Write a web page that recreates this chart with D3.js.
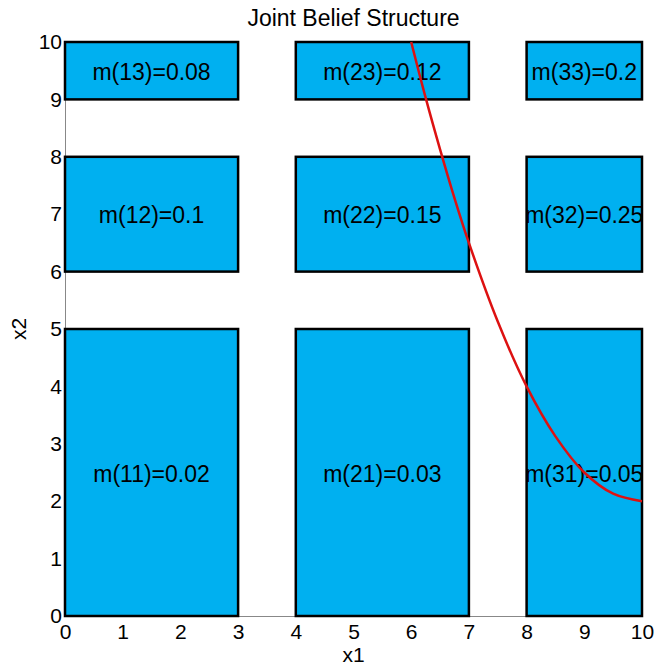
<!DOCTYPE html>
<html lang="en">
<head>
    <meta charset="UTF-8">
    <title>Joint Belief Structure</title>
    <script src="https://cdnjs.cloudflare.com/ajax/libs/d3/7.9.0/d3.min.js"></script>
    <style>
        body { margin: 0; background: #fff; font-family: Arial, "Liberation Sans", sans-serif; }
        .cell { fill: #00b0f0; stroke: #000; stroke-width: 2.5; }
        .cell-label { font-size: 23px; fill: #000; text-anchor: middle; }
        .axis path { stroke: #888; stroke-width: 1; }
        .axis text { font-size: 21px; fill: #000; font-family: Arial, "Liberation Sans", sans-serif; }
        .title { font-size: 23px; fill: #000; text-anchor: middle; }
        .axis-label { font-size: 21px; fill: #000; text-anchor: middle; }
    </style>
</head>
<body>
<div id="chart"></div>
<script>
    // focal intervals on each axis
    const x1Bands = [[0, 3], [4, 7], [8, 10]];
    const x2Bands = [[0, 5], [6, 8], [9, 10]];
    // mass[i][j] -> m(i+1, j+1)
    const masses = [
        [0.02, 0.1, 0.08],
        [0.03, 0.15, 0.12],
        [0.05, 0.25, 0.2]
    ];
    const ticks = [0, 1, 2, 3, 4, 5, 6, 7, 8, 9, 10];
    // red boundary curve
    const curveX = [6, 6.25, 6.5, 6.75, 7, 7.5, 8, 8.5, 9, 9.5, 10];
    const curveY = [10, 9.03, 8.13, 7.28, 6.5, 5.13, 4, 3.13, 2.5, 2.13, 2];

    const width = 654, height = 667;
    const margin = { top: 42, right: 12, bottom: 51, left: 65 };

    const svg = d3.select("#chart").append("svg")
        .attr("width", width)
        .attr("height", height);

    const x = d3.scaleLinear().domain([0, 10]).range([margin.left, width - margin.right]);
    const y = d3.scaleLinear().domain([0, 10]).range([height - margin.bottom, margin.top]);

    // axes (no visible ticks)
    svg.append("g")
        .attr("class", "axis")
        .attr("transform", `translate(0,${y(0)})`)
        .call(d3.axisBottom(x).tickValues(ticks).tickFormat(d3.format("d")).tickSize(0).tickPadding(8));

    svg.append("g")
        .attr("class", "axis")
        .attr("transform", `translate(${x(0)},0)`)
        .call(d3.axisLeft(y).tickValues(ticks).tickFormat(d3.format("d")).tickSize(0).tickPadding(3));

    // cells
    const cells = [];
    x1Bands.forEach((bx, i) => {
        x2Bands.forEach((by, j) => {
            cells.push({ bx, by, label: `m(${i + 1}${j + 1})=${masses[i][j]}` });
        });
    });

    svg.selectAll(".cell")
        .data(cells)
        .enter()
        .append("rect")
        .attr("class", "cell")
        .attr("x", d => x(d.bx[0]))
        .attr("y", d => y(d.by[1]))
        .attr("width", d => x(d.bx[1]) - x(d.bx[0]))
        .attr("height", d => y(d.by[0]) - y(d.by[1]));

    svg.selectAll(".cell-label")
        .data(cells)
        .enter()
        .append("text")
        .attr("class", "cell-label")
        .attr("x", d => x((d.bx[0] + d.bx[1]) / 2))
        .attr("y", d => y((d.by[0] + d.by[1]) / 2))
        .attr("dy", "0.4em")
        .text(d => d.label);

    // red curve
    const line = d3.line()
        .x(d => x(d[0]))
        .y(d => y(d[1]))
        .curve(d3.curveCatmullRom);

    svg.append("path")
        .datum(d3.zip(curveX, curveY))
        .attr("d", line)
        .attr("fill", "none")
        .attr("stroke", "#dd1111")
        .attr("stroke-width", 2.5);

    // titles
    svg.append("text")
        .attr("class", "title")
        .attr("x", (x(0) + x(10)) / 2)
        .attr("y", 26)
        .text("Joint Belief Structure");

    svg.append("text")
        .attr("class", "axis-label")
        .attr("x", (x(0) + x(10)) / 2)
        .attr("y", 662)
        .text("x1");

    svg.append("text")
        .attr("class", "axis-label")
        .attr("transform", `translate(26,${(y(0) + y(10)) / 2}) rotate(-90)`)
        .text("x2");
</script>
</body>
</html>
